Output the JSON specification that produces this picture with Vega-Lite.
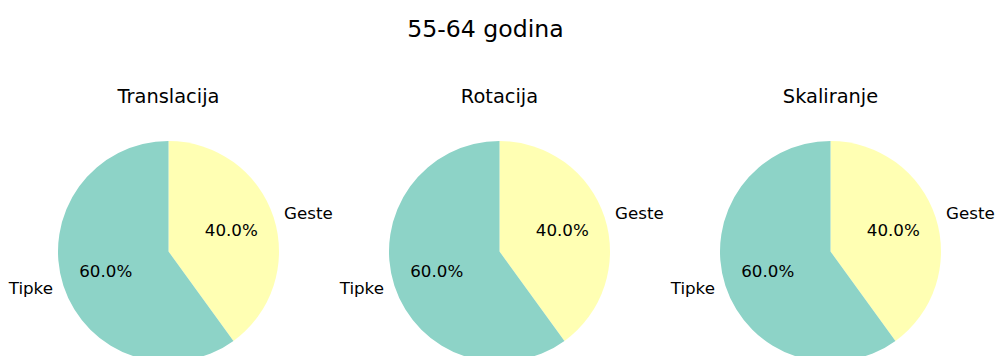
{
  "$schema": "https://vega.github.io/schema/vega-lite/v6.json",
  "padding": {"left": 3, "top": 18, "right": 0, "bottom": 0},
  "data": {"values": [
    {"panel": "Translacija", "category": "Geste", "value": 0.4},
    {"panel": "Translacija", "category": "Tipke", "value": 0.6},
    {"panel": "Rotacija", "category": "Geste", "value": 0.4},
    {"panel": "Rotacija", "category": "Tipke", "value": 0.6},
    {"panel": "Skaliranje", "category": "Geste", "value": 0.4},
    {"panel": "Skaliranje", "category": "Tipke", "value": 0.6}
  ]},
  "title": {"text": "55-64 godina", "fontSize": 23.6, "font": "DejaVu Sans", "fontWeight": "normal", "color": "black", "anchor": "middle", "offset": 45, "dx": -14},
  "facet": {"column": {"field": "panel", "type": "nominal", "sort": ["Translacija", "Rotacija", "Skaliranje"],
    "header": {"title": null, "labelFontSize": 19.4, "labelFont": "DejaVu Sans", "labelColor": "black", "labelPadding": 34}}},
  "spacing": 0,
  "spec": {
    "width": 331,
    "height": 221,
    "encoding": {
      "theta": {"field": "value", "type": "quantitative", "stack": true, "scale": {"domain": [0, 1]}},
      "order": {"field": "category", "type": "nominal"}
    },
    "layer": [
      {"mark": {"type": "arc", "radius": 110.5},
       "encoding": {"color": {"field": "category", "type": "nominal", "scale": {"domain": ["Geste", "Tipke"], "range": ["#ffffb3", "#8dd3c7"]}, "legend": null}}},
      {"mark": {"type": "text", "radius": 66, "font": "DejaVu Sans", "fontSize": 16.7, "color": "black", "align": "center", "baseline": "middle"},
       "encoding": {"text": {"field": "value", "type": "quantitative", "format": ".1%"}}},
      {"mark": {"type": "text", "radius": 121.5, "font": "DejaVu Sans", "fontSize": 16.7, "color": "black", "align": "left", "baseline": "middle"},
       "encoding": {"text": {"condition": {"test": "datum.category === 'Geste'", "field": "category"}, "value": ""}}},
      {"mark": {"type": "text", "radius": 121.5, "font": "DejaVu Sans", "fontSize": 16.7, "color": "black", "align": "right", "baseline": "middle"},
       "encoding": {"text": {"condition": {"test": "datum.category === 'Tipke'", "field": "category"}, "value": ""}}}
    ]
  },
  "config": {"view": {"stroke": null}}
}
